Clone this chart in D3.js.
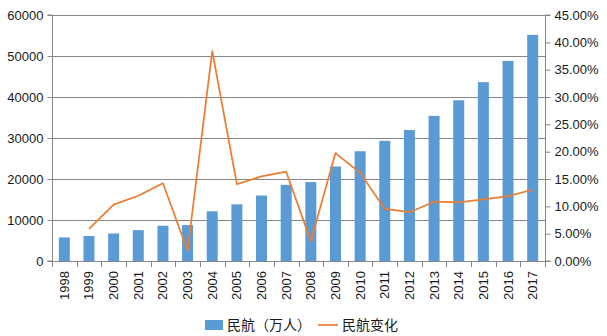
<!DOCTYPE html>
<html><head><meta charset="utf-8">
<script src="https://cdn.jsdelivr.net/npm/d3@7"></script>
<style>
body{margin:0;background:#fff;}
svg{display:block;font-family:"Liberation Sans",Arial,"Noto Sans CJK SC",sans-serif;}
</style></head>
<body><svg id="chart" width="607" height="336"></svg>
<script>
const years = ["1998","1999","2000","2001","2002","2003","2004","2005","2006","2007","2008","2009","2010","2011","2012","2013","2014","2015","2016","2017"];
const passengers = [5755,6094,6722,7524,8594,8759,12123,13827,15968,18576,19251,23052,26769,29317,31936,35397,39195,43618,48796,55156];
const growth = [null,0.0589,0.1031,0.1193,0.1422,0.0192,0.3841,0.1406,0.1548,0.1633,0.0363,0.1974,0.1612,0.0952,0.0893,0.1084,0.1073,0.1128,0.1187,0.1303];
const leftTicks = [0,10000,20000,30000,40000,50000,60000];
const rightTicks = [0,0.05,0.10,0.15,0.20,0.25,0.30,0.35,0.40,0.45];
const seriesNames = ["民航（万人）","民航变化"];

const svg = d3.select("#chart");
const L = 52, R = 545, T = 15, B = 261;
const gray = "#868686", txt = "#1a1a1a";
const blue = "#5B9BD5", orange = "#ED7D31";

const x = d3.scaleBand().domain(years).range([L, R]).paddingInner(0.6).paddingOuter(0.3);
const xb = d3.scaleBand().domain(years).range([L, R]);
const yL = d3.scaleLinear().domain([0, 60000]).range([B, T]);
const yR = d3.scaleLinear().domain([0, 0.45]).range([B, T]);

// gridlines
svg.append("g").selectAll("line").data(leftTicks).join("line")
  .attr("x1", L).attr("x2", R)
  .attr("y1", d => Math.round(yL(d)) + 0.5).attr("y2", d => Math.round(yL(d)) + 0.5)
  .attr("stroke", gray).attr("stroke-width", 1);

// bars
svg.append("g").selectAll("rect").data(passengers).join("rect")
  .attr("x", (d, i) => xb(years[i]) + xb.bandwidth() / 2 - 5.5)
  .attr("width", 11)
  .attr("y", d => yL(d))
  .attr("height", d => B - yL(d))
  .attr("fill", blue);

// line
const line = d3.line()
  .defined(d => d.v != null)
  .x(d => xb(d.y) + xb.bandwidth() / 2)
  .y(d => yR(d.v));
svg.append("path")
  .datum(years.map((y, i) => ({ y, v: growth[i] })))
  .attr("d", line).attr("fill", "none")
  .attr("stroke", orange).attr("stroke-width", 1.75).attr("stroke-linejoin", "round");

// left axis
const gl = svg.append("g").attr("transform", `translate(${L + 0.5},0)`)
  .call(d3.axisLeft(yL).tickValues(leftTicks).tickSize(5).tickPadding(4).tickFormat(d3.format("d")));
gl.select(".domain").attr("stroke", gray).attr("d", `M-5,${T}H0V${B}H-5`);
gl.selectAll(".tick line").attr("stroke", gray);
gl.selectAll(".tick text").attr("fill", txt).style("font-size", "13px");

// right axis
const gr = svg.append("g").attr("transform", `translate(${R + 0.5},0)`)
  .call(d3.axisRight(yR).tickValues(rightTicks).tickSize(5).tickPadding(4).tickFormat(d3.format(".2%")));
gr.select(".domain").attr("stroke", gray).attr("d", `M5,${T}H0V${B}H5`);
gr.selectAll(".tick line").attr("stroke", gray);
gr.selectAll(".tick text").attr("fill", txt).style("font-size", "13px");

// bottom axis
svg.append("line").attr("x1", L).attr("x2", R).attr("y1", B + 0.5).attr("y2", B + 0.5).attr("stroke", gray);
svg.append("g").selectAll("line").data(years.concat(["end"])).join("line")
  .attr("x1", (d, i) => Math.round(L + i * xb.bandwidth()) + 0.5)
  .attr("x2", (d, i) => Math.round(L + i * xb.bandwidth()) + 0.5)
  .attr("y1", B).attr("y2", B + 6).attr("stroke", gray);
svg.append("g").selectAll("text").data(years).join("text")
  .attr("transform", d => `translate(${xb(d) + xb.bandwidth() / 2 + 4.5},${271}) rotate(-90)`)
  .attr("text-anchor", "end")
  .attr("fill", txt).style("font-size", "13px")
  .text(d => d);

// legend
const lg = svg.append("g").style("font-family", "'Noto Sans CJK SC',sans-serif").style("font-size", "14px");
lg.append("rect").attr("x", 205).attr("y", 320).attr("width", 18).attr("height", 10).attr("fill", blue);
lg.append("text").attr("x", 227).attr("y", 330).attr("fill", txt).text(seriesNames[0]);
lg.append("line").attr("x1", 318).attr("x2", 338).attr("y1", 325).attr("y2", 325)
  .attr("stroke", orange).attr("stroke-width", 1.75);
lg.append("text").attr("x", 342).attr("y", 330).attr("fill", txt).text(seriesNames[1]);
</script></body></html>
